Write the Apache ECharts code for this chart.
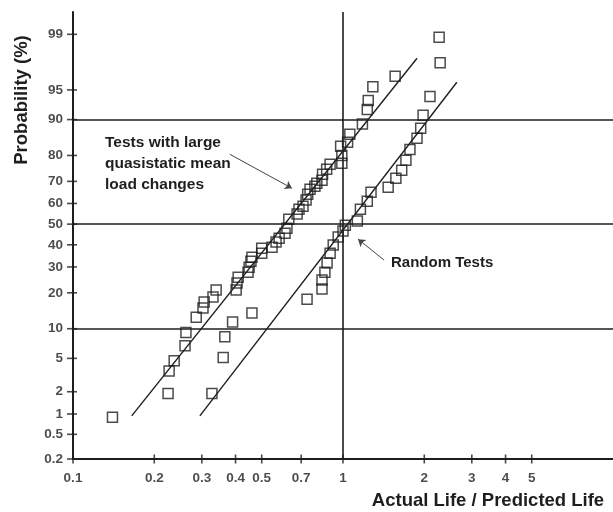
<!DOCTYPE html>
<html>
<head>
<meta charset="utf-8">
<script src="https://cdn.jsdelivr.net/npm/echarts@6/dist/echarts.min.js"></script>
<style>
  html, body { margin: 0; padding: 0; background: #fff; }
  #chart { width: 613px; height: 512px; }
</style>
</head>
<body>
<div id="chart"></div>
<script>
// tick labels
const xTicks = [0.1, 0.2, 0.3, 0.4, 0.5, 0.7, 1, 2, 3, 4, 5]
const yTicks = [0.2, 0.5, 1, 2, 5, 10, 20, 30, 40, 50, 60, 70, 80, 90, 95, 99]
const refProbs = [10, 50, 90]

// tests with large quasistatic mean load changes
const quasiRatio = [0.14, 0.225, 0.227, 0.237, 0.26, 0.262, 0.286, 0.303, 0.306, 0.33, 0.339, 0.402,
  0.405, 0.409, 0.445, 0.449, 0.456, 0.46, 0.50, 0.50, 0.546, 0.565, 0.58, 0.61, 0.62, 0.63, 0.676,
  0.687, 0.711, 0.73, 0.74, 0.755, 0.787, 0.80, 0.836, 0.84, 0.87, 0.896, 0.99, 0.99, 0.98, 1.04,
  1.06, 1.18, 1.23, 1.24, 1.29, 1.56]
const quasiProb = [0.9, 1.9, 3.6, 4.7, 6.8, 9.2, 12.7, 15.2, 17, 18.6, 21, 21,
  23.5, 25.8, 27.8, 29.9, 32.5, 34.3, 36.1, 38.4, 38.9, 41.3, 43.2, 45.6, 48, 52.4, 54.9,
  57.3, 58.7, 61.6, 64.3, 66.6, 67.9, 69.2, 70.5, 73, 74.9, 76.9, 77.2, 80, 83, 84.2,
  86.5, 89, 92, 93.5, 95.4, 96.5]

// random tests
const randomRatio = [0.327, 0.36, 0.365, 0.39, 0.46, 0.736, 0.836, 0.836, 0.857, 0.873, 0.896, 0.92,
  0.96, 1.0, 1.02, 1.13, 1.16, 1.23, 1.27, 1.47, 1.57, 1.65, 1.71, 1.77, 1.88, 1.94, 1.98, 2.10,
  2.29, 2.27]
const randomProb = [1.9, 5.1, 8.4, 11.5, 13.8, 17.9, 21.3, 24.7, 27.8, 31.7, 36.1, 39.9,
  43.7, 46.6, 49.5, 51.5, 57.3, 61.1, 65.2, 67.5, 71.3, 74.6, 78.3, 82, 85.4, 88, 90.9, 94.1,
  97.6, 98.9]

// fitted lines (ratio, probability %)
const quasiFit = [[0.165, 0.94], [1.88, 97.9]]
const randomFit = [[0.295, 0.94], [2.64, 95.9]]

// inverse normal cdf (Acklam) -> probability paper
function probit (p) {
  const a = [-39.69683028665376, 220.9460984245205, -275.9285104469687, 138.3577518672690, -30.66479806614716, 2.506628277459239]
  const b = [-54.47609879822406, 161.5858368580409, -155.6989798598866, 66.80131188771972, -13.28068155922803]
  const c = [-0.007784894002430293, -0.3223964580411365, -2.400758277161838, -2.549732539343734, 4.374664141464968, 2.938163982698783]
  const d = [0.007784695709041462, 0.3224671290700398, 2.445134137142996, 3.754408661907416]
  const pl = 0.02425
  if (p < pl) {
    const q = Math.sqrt(-2 * Math.log(p))
    return (((((c[0] * q + c[1]) * q + c[2]) * q + c[3]) * q + c[4]) * q + c[5]) / ((((d[0] * q + d[1]) * q + d[2]) * q + d[3]) * q + 1)
  }
  if (p > 1 - pl) {
    const q = Math.sqrt(-2 * Math.log(1 - p))
    return -(((((c[0] * q + c[1]) * q + c[2]) * q + c[3]) * q + c[4]) * q + c[5]) / ((((d[0] * q + d[1]) * q + d[2]) * q + d[3]) * q + 1)
  }
  const q = p - 0.5
  const r = q * q
  return (((((a[0] * r + a[1]) * r + a[2]) * r + a[3]) * r + a[4]) * r + a[5]) * q / (((((b[0] * r + b[1]) * r + b[2]) * r + b[3]) * r + b[4]) * r + 1)
}
const z = pct => probit(pct / 100)

const X_MIN = 0.1
const X_MAX = 10
const Y_MIN = z(0.2)
const Y_MAX = 2.6
const INK = '#1e1e1e'
const FONT = 'Liberation Sans, Arial, sans-serif'

const toPts = (xs, ps) => xs.map((x, i) => [x, z(ps[i])])

const chart = echarts.init(document.getElementById('chart'))

const squareStyle = {
  type: 'scatter',
  symbol: 'rect',
  symbolSize: 10,
  clip: false,
  itemStyle: { color: 'rgba(0,0,0,0)', borderColor: INK, borderWidth: 1.5 }
}

const option = {
  animation: false,
  backgroundColor: '#fff',
  grid: { left: 73, right: 0, top: 12, bottom: 53 },
  xAxis: {
    type: 'log',
    logBase: 10,
    min: X_MIN,
    max: X_MAX,
    axisLine: { show: true, onZero: false, lineStyle: { color: INK, width: 2 } },
    axisTick: { show: false },
    axisLabel: { show: false },
    splitLine: { show: false },
    minorTick: { show: false }
  },
  yAxis: {
    type: 'value',
    min: Y_MIN,
    max: Y_MAX,
    axisLine: { show: true, onZero: false, lineStyle: { color: INK, width: 2 } },
    axisTick: { show: false },
    axisLabel: { show: false },
    splitLine: { show: false }
  },
  series: [
    {
      // y tick marks + labels
      type: 'scatter',
      silent: true,
      clip: false,
      symbol: 'rect',
      symbolSize: [10, 1.6],
      symbolOffset: [-1, 0],
      itemStyle: { color: INK },
      data: yTicks.map(p => [X_MIN, z(p), p]),
      label: {
        show: true,
        position: 'left',
        distance: 4,
        color: INK,
        fontFamily: FONT,
        fontWeight: 'bold',
        fontSize: 13.5,
        formatter: p => String(p.data[2])
      }
    },
    {
      // x tick marks + labels
      type: 'scatter',
      silent: true,
      clip: false,
      symbol: 'rect',
      symbolSize: [1.6, 9],
      itemStyle: { color: INK },
      data: xTicks.map(v => [v, Y_MIN]),
      label: {
        show: true,
        position: 'bottom',
        distance: 8,
        color: INK,
        fontFamily: FONT,
        fontWeight: 'bold',
        fontSize: 13.5,
        formatter: p => String(p.data[0])
      }
    },
    {
      type: 'line',
      silent: true,
      symbol: 'none',
      lineStyle: { color: INK, width: 1.4 },
      data: quasiFit.map(d => [d[0], z(d[1])]),
      markLine: {
        silent: true,
        symbol: 'none',
        label: { show: false },
        lineStyle: { color: INK, width: 1.6, type: 'solid' },
        data: refProbs.map(p => ({ yAxis: z(p) })).concat([{ xAxis: 1 }])
      }
    },
    {
      type: 'line',
      silent: true,
      symbol: 'none',
      lineStyle: { color: INK, width: 1.4 },
      data: randomFit.map(d => [d[0], z(d[1])]),
      markLine: {
        silent: true,
        label: { show: false },
        lineStyle: { color: '#444', width: 1, type: 'solid' },
        data: [
          [{ coord: [0.381, z(80.4)], symbol: 'none' }, { coord: [0.647, z(67)], symbol: 'arrow', symbolSize: 7 }],
          [{ coord: [1.42, z(33)], symbol: 'none' }, { coord: [1.137, z(42.7)], symbol: 'arrow', symbolSize: 7 }]
        ]
      }
    },
    Object.assign({ name: 'Quasistatic', data: toPts(quasiRatio, quasiProb) }, squareStyle),
    Object.assign({ name: 'Random', data: toPts(randomRatio, randomProb) }, squareStyle)
  ],
  graphic: [
    {
      type: 'text',
      x: 105,
      y: 132,
      style: {
        text: 'Tests with large\nquasistatic mean\nload changes',
        font: 'bold 15.5px ' + FONT,
        lineHeight: 21,
        fill: INK
      }
    },
    {
      type: 'text',
      x: 391,
      y: 263,
      style: {
        text: 'Random Tests',
        font: 'bold 15px ' + FONT,
        textVerticalAlign: 'middle',
        fill: INK
      }
    },
    {
      type: 'text',
      x: 22,
      y: 100,
      rotation: Math.PI / 2,
      style: {
        text: 'Probability (%)',
        font: 'bold 18.5px ' + FONT,
        textAlign: 'center',
        textVerticalAlign: 'middle',
        fill: INK
      }
    },
    {
      type: 'text',
      x: 488,
      y: 501,
      style: {
        text: 'Actual Life / Predicted Life',
        font: 'bold 18.5px ' + FONT,
        textAlign: 'center',
        textVerticalAlign: 'middle',
        fill: INK
      }
    }
  ]
}

chart.setOption(option)
</script>
</body>
</html>
